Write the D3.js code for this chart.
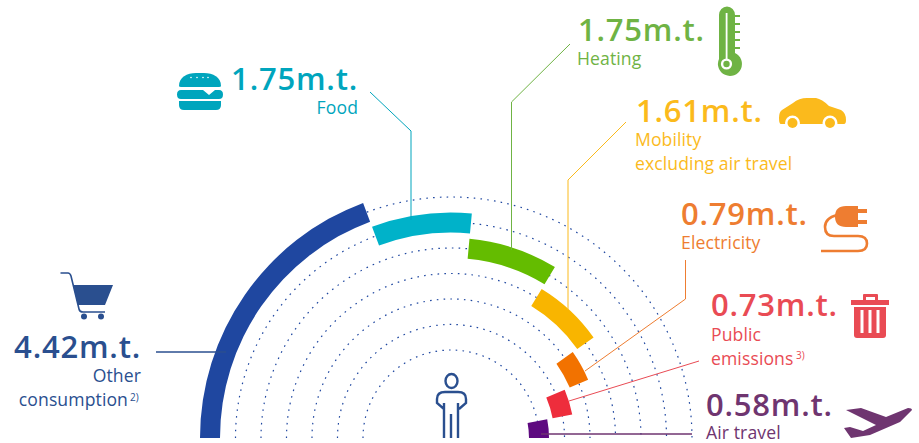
<!DOCTYPE html>
<html>
<head>
<meta charset="utf-8">
<script src="https://cdn.jsdelivr.net/npm/d3@7"></script>
<style>
  html, body { margin: 0; padding: 0; background: #fff; }
  svg { display: block; }
  text { font-family: "Open Sans", sans-serif; }
  .big { font-size: 31px; font-weight: 600; letter-spacing: 0.8px; }
  .sub { font-size: 17.6px; font-weight: 400; letter-spacing: 0.1px; }
  .sup { font-size: 10px; }
</style>
</head>
<body>
<div id="chart"></div>
<script>
const width = 919
const height = 443

// order is left to right round the half circle
const categories = ['Other consumption', 'Food', 'Heating', 'Mobility', 'Electricity', 'Public emissions', 'Air travel']
const valueLabels = ['4.42m.t.', '1.75m.t.', '1.75m.t.', '1.61m.t.', '0.79m.t.', '0.73m.t.', '0.58m.t.']
// sweep of each bar in degrees
const sweeps = [69.5, 25.8, 26, 23.5, 12.2, 12, 11]
const barColors = ['#1f47a0', '#00b2c9', '#64bc00', '#f9b500', '#f27200', '#ee2d3c', '#5e0a80']
const textColors = ['#2a4f8f', '#00a5bd', '#6fb344', '#fbba1c', '#ee7d31', '#e94b54', '#6f3570']
const ringSteps = [0, 1, 2, 3, 4, 5, 6]

const cx = 451
const cy = 438
const svg = d3.select('#chart').append('svg').attr('width', width).attr('height', height)

const angle = d3.scaleLinear().domain([0, 180]).range([-Math.PI / 2, Math.PI / 2])
const radius = d3.scaleLinear().domain([0, 6]).range([241, 88])
const ends = Array.from(d3.cumsum(sweeps))

const root = svg.append('g').attr('transform', `translate(${cx},${cy})`)

// dotted rings
ringSteps.forEach(s => {
  const p = d3.path()
  p.arc(0, 0, radius(s), -Math.PI, 0)
  root.append('path')
    .attr('d', p.toString())
    .attr('fill', 'none')
    .attr('stroke', '#1f47a0')
    .attr('stroke-width', 1.2)
    .attr('stroke-dasharray', '1.6 5.2')
})

// leader lines sit under the bars
const leaders = [
  [[156, 352], [226, 352]],
  [[370, 92], [411, 131], [411, 220]],
  [[570, 44], [511.5, 102], [511.5, 250]],
  [[626, 122], [568, 180], [568, 310]],
  [[685.5, 260], [685.5, 299], [585, 371]],
  [[699, 361], [569, 401]],
  [[541, 434], [692, 434]]
]
const leaderLine = d3.line()
leaders.forEach((l, i) => {
  svg.append('path')
    .attr('d', leaderLine(l))
    .attr('fill', 'none')
    .attr('stroke', textColors[i])
    .attr('stroke-width', 1)
})

const arc = d3.arc()
root.selectAll('path.bar')
  .data(categories)
  .enter()
  .append('path')
  .attr('class', 'bar')
  .attr('fill', (d, i) => barColors[i])
  .attr('d', (d, i) => arc({
    innerRadius: radius(i) - 10,
    outerRadius: radius(i) + 10,
    startAngle: angle(i ? ends[i - 1] : 0),
    endAngle: angle(ends[i])
  }))

// redraw the bits of leader that run over the bars
;[leaders[0], leaders[6]].forEach((l, i) => {
  svg.append('path')
    .attr('d', leaderLine(l))
    .attr('fill', 'none')
    .attr('stroke', textColors[i ? 6 : 0])
    .attr('stroke-width', 1)
})

// white strip covers the bottom edge under the half circle
svg.append('rect').attr('x', 0).attr('y', cy).attr('width', width).attr('height', height - cy).attr('fill', '#fff')

const addText = (cls, x, y, str, color, anchor) => svg.append('text')
  .attr('class', cls)
  .attr('x', x)
  .attr('y', y)
  .attr('fill', color)
  .attr('text-anchor', anchor || 'start')
  .text(str)

const c = textColors
addText('big', 141, 358, valueLabels[0], c[0], 'end')
addText('sub', 141, 382, 'Other', c[0], 'end')
addText('sub', 128, 406, 'consumption', c[0], 'end')
addText('sup', 130, 401, '2)', c[0])

addText('big', 358, 90, valueLabels[1], c[1], 'end')
addText('sub', 358, 114, 'Food', c[1], 'end')

addText('big', 578, 41, valueLabels[2], c[2])
addText('sub', 577, 65, 'Heating', c[2])

addText('big', 636, 122, valueLabels[3], c[3])
addText('sub', 635, 146, 'Mobility', c[3])
addText('sub', 635, 170, 'excluding air travel', c[3])

addText('big', 681, 225, valueLabels[4], c[4])
addText('sub', 681, 249, 'Electricity', c[4])

addText('big', 711, 316, valueLabels[5], c[5])
addText('sub', 711, 341, 'Public', c[5])
addText('sub', 711, 365, 'emissions', c[5])
addText('sup', 796, 359, '3)', c[5])

addText('big', 706, 416, valueLabels[6], c[6])
addText('sub', 706, 439, 'Air travel', c[6])

// icons
const icon = (x, y) => svg.append('g').attr('transform', `translate(${x},${y})`)

// burger
const burger = icon(177, 72)
burger.append('path').attr('fill', c[1]).attr('d', 'M2 14 C2 5 10 1 19 1 H27 C36 1 44 5 44 14 Q44 15 42 15 H4 Q2 15 2 14Z')
burger.append('path').attr('fill', c[1]).attr('d', 'M4 18 H26 L32 23 L38 18 H42 Q46 18 46 22.5 Q46 27 42 27 H4 Q0 27 0 22.5 Q0 18 4 18Z')
burger.append('path').attr('fill', c[1]).attr('d', 'M2 29 H44 V33 Q44 38 39 38 H7 Q2 38 2 33Z')
;[14, 20, 26, 31].forEach(x => burger.append('circle').attr('cx', x).attr('cy', 5.5).attr('r', 0.8).attr('fill', '#fff'))

// thermometer
const therm = icon(714, 7)
therm.append('path').attr('fill', c[2]).attr('d', 'M5 52 V8 A7 7.5 0 0 1 21 8 V46 A12 12 0 1 1 5 52Z')
therm.append('path').attr('fill', c[2]).attr('d', 'M21 8 H26 V10 H21Z M21 16 H26 V18 H21Z M21 24 H26 V26 H21Z M21 32 H26 V34 H21Z M21 40 H26 V42 H21Z')
therm.append('rect').attr('x', 11.7).attr('y', 6).attr('width', 1.8).attr('height', 46).attr('fill', '#fff')
therm.append('circle').attr('cx', 12.5).attr('cy', 57).attr('r', 5.6).attr('fill', '#fff')
therm.append('circle').attr('cx', 12.5).attr('cy', 57).attr('r', 3.2).attr('fill', c[2])

// car
const car = icon(779, 98)
car.append('path').attr('fill', c[3]).attr('d', 'M0 20 Q0 14 3 12 L14 5 Q20 0 28 0 H37 Q43 1 50 8 L62 12 Q67 15 67 22 Q67 26 65 26 H2 Q0 26 0 20Z')
;[13.5, 51].forEach(x => {
  car.append('circle').attr('cx', x).attr('cy', 25).attr('r', 7.5).attr('fill', '#fff')
  car.append('circle').attr('cx', x).attr('cy', 25).attr('r', 5).attr('fill', c[3])
})

// plug
const plug = icon(821, 205)
plug.append('path').attr('fill', c[4]).attr('d', 'M25 1 H37 V22 H25 Q14 22 14 11.5 Q14 1 25 1Z M37 4 H46 V8 H37Z M37 15 H46 V19 H37Z')
plug.append('path').attr('fill', 'none').attr('stroke', c[4]).attr('stroke-width', 2.6)
  .attr('d', 'M16 10 Q4 13 4 22 Q4 31 13 31 H37 Q46 31 46 38.5 Q46 46 37 46 H0')

// bin
const bin = icon(851, 294)
bin.append('path').attr('fill', c[5]).attr('d', 'M0 6 H12 V1 Q12 0 13 0 H26 Q27 0 27 1 V6 H38 V11 H0Z M15 3 V6 H24 V3Z')
bin.append('path').attr('fill', c[5]).attr('d', 'M3 13 H35 V41 Q35 44 32 44 H6 Q3 44 3 41Z')
;[9.5, 17.5, 25.5].forEach(x => bin.append('rect').attr('x', x).attr('y', 16).attr('width', 3).attr('height', 23).attr('fill', '#fff'))

// plane
const plane = icon(844, 407)
plane.append('path').attr('fill', c[6]).attr('d', 'M2 3 L17 1 L42 10 L64 1 Q68 1 68 3 L56 15 L26 28 L7 31 L0 21 L6 20 L19 24 L32 18Z')

// cart
const cart = icon(60, 272)
cart.append('path').attr('fill', 'none').attr('stroke', c[0]).attr('stroke-width', 1.6)
  .attr('d', 'M0.5 1 H8 Q10 1 11 4 L19 37 Q19.5 40 23 40 H45')
cart.append('path').attr('fill', c[0]).attr('d', 'M13 13 H53 L45 33 H18Z')
cart.append('circle').attr('cx', 24).attr('cy', 44.5).attr('r', 3).attr('fill', c[0])
cart.append('circle').attr('cx', 41).attr('cy', 44.5).attr('r', 3).attr('fill', c[0])

// person
const person = icon(451, 371)
person.append('ellipse').attr('cx', 0.5).attr('cy', 10).attr('rx', 6).attr('ry', 7).attr('fill', 'none').attr('stroke', c[0]).attr('stroke-width', 2.4)
person.append('path').attr('fill', 'none').attr('stroke', c[0]).attr('stroke-width', 2.4)
  .attr('d', 'M-7 67 V32 M0 67 V43 M7 67 V32 M-7 38 L-14 32 V28 Q-14 21 -6 21 H7 Q15 21 15 28 V32 L8 38')
</script>
</body>
</html>
